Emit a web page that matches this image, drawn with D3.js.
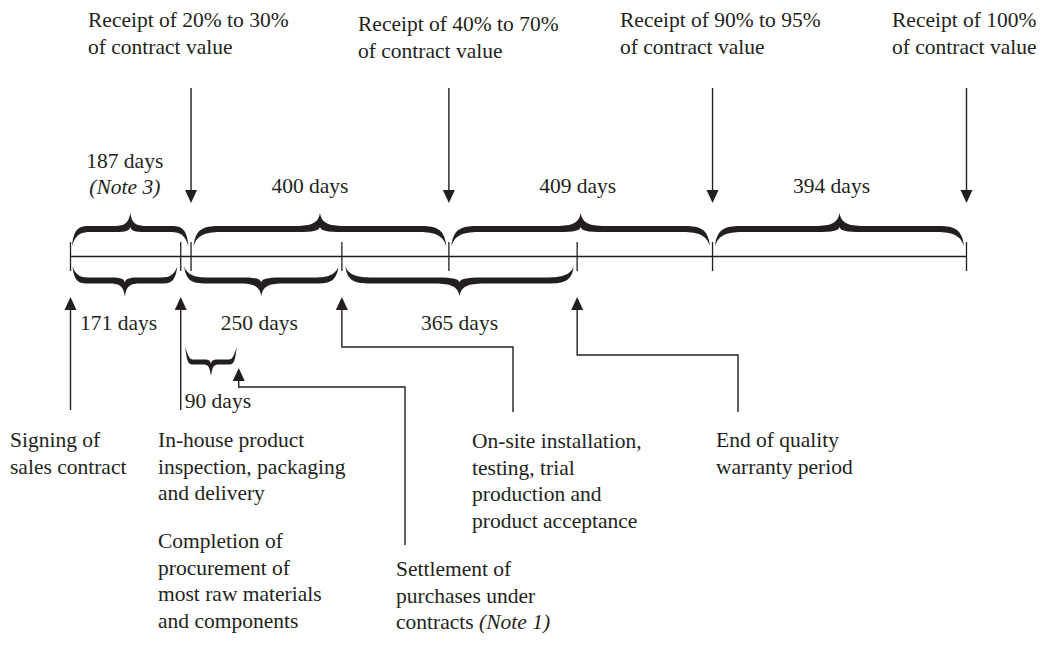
<!DOCTYPE html>
<html>
<head>
<meta charset="utf-8">
<script src="https://cdn.jsdelivr.net/npm/d3@7"></script>
<style>
  html, body { margin: 0; padding: 0; background: #fff; }
  svg text { font-family: 'Liberation Serif', 'Times New Roman', serif; font-size: 21.5px; fill: #231f20; }
</style>
</head>
<body>
<svg id="chart" width="1050" height="647"></svg>
<script>
// days from signing of the sales contract
const axisDays = [0, 171, 187, 421, 587, 786, 996, 1390];

// payment receipts (arrows from the top)
const receiptDays = [187, 587, 996, 1390];
const receiptLabels = [
    ['Receipt of 20% to 30%', 'of contract value'],
    ['Receipt of 40% to 70%', 'of contract value'],
    ['Receipt of 90% to 95%', 'of contract value'],
    ['Receipt of 100%', 'of contract value']
];

// spans above the line
const topSpanStart = [0, 187, 587, 996];
const topSpanEnd = [187, 587, 996, 1390];
const topSpanLabels = [['187 days', '(Note 3)'], ['400 days'], ['409 days'], ['394 days']];

// spans below the line
const bottomSpanStart = [0, 171, 421];
const bottomSpanEnd = [171, 421, 786];
const bottomSpanLabels = ['171 days', '250 days', '365 days'];

// procurement span
const procStart = 171;
const procEnd = 261;
const procLabel = '90 days';

// events (arrows from the bottom)
const eventDays = [0, 171, 421, 786, 261];
const eventLabels = [
    ['Signing of', 'sales contract'],
    ['In-house product', 'inspection, packaging', 'and delivery'],
    ['On-site installation,', 'testing, trial', 'production and', 'product acceptance'],
    ['End of quality', 'warranty period'],
    ['Settlement of', 'purchases under', 'contracts (Note 1)']
];
const extraLabel = ['Completion of', 'procurement of', 'most raw materials', 'and components'];

const svg = d3.select('#chart');
const x = d3.scaleLinear().domain([0, 1390]).range([70.5, 966.5]);

const axisY = 256.5;
const ink = '#231f20';
const lineH = 26.7;

// text with italic notes
function writeLines(sel, lines, xPos, y0, anchor) {
    lines.forEach((line, i) => {
        let t = sel.append('text')
            .attr('x', xPos)
            .attr('y', y0 + i * lineH)
            .attr('text-anchor', anchor || 'start');
        line.split(/(\(Note \d\))/).filter(s => s.length).forEach(part => {
            let ts = t.append('tspan').text(part);
            if (/^\(Note/.test(part)) ts.style('font-style', 'italic');
        });
    });
}

// filled curly brace, tip points toward yTip
function bracePath(x1, x2, yEnd, yb, yTip, t, qMax) {
    const w = x2 - x1;
    const qEnd = Math.min(qMax, w * 0.18);
    const qTip = Math.min(qMax * 0.85, w * 0.15);
    const s = Math.sign(yTip - yb);
    const h = t / 2;
    const yo = yb + s * h;
    const yi = yb - s * h;
    const xm = (x1 + x2) / 2;
    const p = d3.path();
    p.moveTo(x1, yEnd);
    p.bezierCurveTo(x1 + 2, yo + s * 1, x1 + qEnd * 0.45, yo, x1 + qEnd, yo);
    p.lineTo(xm - qTip, yo);
    p.bezierCurveTo(xm - qTip * 0.4, yo, xm - 1.5, yo + s * 1.5, xm, yTip);
    p.bezierCurveTo(xm + 1.5, yo + s * 1.5, xm + qTip * 0.4, yo, xm + qTip, yo);
    p.lineTo(x2 - qEnd, yo);
    p.bezierCurveTo(x2 - qEnd * 0.45, yo, x2 - 2, yo + s * 1, x2, yEnd);
    p.bezierCurveTo(x2 - 4, yi, x2 - qEnd * 0.55, yi, x2 - qEnd, yi);
    p.lineTo(xm + qTip, yi);
    p.bezierCurveTo(xm + qTip * 0.45, yi, xm + 1, yi, xm, yo - s * 1);
    p.bezierCurveTo(xm - 1, yi, xm - qTip * 0.45, yi, xm - qTip, yi);
    p.lineTo(x1 + qEnd, yi);
    p.bezierCurveTo(x1 + qEnd * 0.55, yi, x1 + 4, yi, x1, yEnd);
    p.closePath();
    return p.toString();
}

function arrowHead(xc, yTip, dir) {
    // dir = 1 pointing down, -1 pointing up
    const hl = 13, hw = 6;
    return `M${xc},${yTip}L${xc - hw},${yTip - dir * hl}L${xc + hw},${yTip - dir * hl}Z`;
}

// main line and ticks
svg.append('line')
    .attr('x1', x(0)).attr('x2', x(1390))
    .attr('y1', axisY).attr('y2', axisY)
    .attr('stroke', ink).attr('stroke-width', 1.3);

svg.selectAll('.tick').data(axisDays).enter().append('line')
    .attr('class', 'tick')
    .attr('x1', d => x(d)).attr('x2', d => x(d))
    .attr('y1', axisY - 14.5).attr('y2', axisY + 14.5)
    .attr('stroke', ink).attr('stroke-width', 1.3);

// top braces
topSpanStart.forEach((d, i) => {
    let x1 = x(d) + (i == 0 ? 1.5 : 2.5);
    let x2 = x(topSpanEnd[i]) - 2.5;
    svg.append('path')
        .attr('d', bracePath(x1, x2, axisY - 10, axisY - 27.5, axisY - 44, 6, 32))
        .attr('fill', ink);
});
const topLabelDx = [-6, -10, -3, -8];
topSpanLabels.forEach((lines, i) => {
    let xc = (x(topSpanStart[i]) + x(topSpanEnd[i])) / 2 + topLabelDx[i];
    writeLines(svg, lines, xc, 193 - (lines.length - 1) * 25.5, 'middle');
});

// bottom braces
bottomSpanStart.forEach((d, i) => {
    let x1 = x(d) + (i == 0 ? 2 : 3.5);
    let x2 = x(bottomSpanEnd[i]) - 3.5;
    svg.append('path')
        .attr('d', bracePath(x1, x2, axisY + 10, axisY + 24, axisY + 40, 6, 32))
        .attr('fill', ink);
});
const bottomLabelDx = [-7, -2, 0];
bottomSpanLabels.forEach((label, i) => {
    let xc = (x(bottomSpanStart[i]) + x(bottomSpanEnd[i])) / 2 + bottomLabelDx[i];
    writeLines(svg, [label], xc, 330, 'middle');
});

// procurement brace
svg.append('path')
    .attr('d', bracePath(x(procStart) + 4.5, x(procEnd) - 2, 347, 362, 376, 5, 14))
    .attr('fill', ink);
writeLines(svg, [procLabel], x(procStart) + 4, 408, 'start');

// receipt arrows
receiptDays.forEach((d, i) => {
    svg.append('line')
        .attr('x1', x(d)).attr('x2', x(d))
        .attr('y1', 88).attr('y2', 192)
        .attr('stroke', ink).attr('stroke-width', 1.4);
    svg.append('path').attr('d', arrowHead(x(d), 203, 1)).attr('fill', ink);
});
const receiptLabelX = [88, 358, 620, 892];
const receiptLabelY = [27, 31, 27, 27];
receiptLabels.forEach((lines, i) => writeLines(svg, lines, receiptLabelX[i], receiptLabelY[i], 'start'));

// event arrows: tip y, elbow y, elbow x end, bottom y
const eventRoutes = [
    { tip: 297, elbowY: null, toX: null, end: 410 },
    { tip: 297, elbowY: null, toX: null, end: 410 },
    { tip: 297, elbowY: 347, toX: 513, end: 412 },
    { tip: 297, elbowY: 355, toX: 738, end: 412 },
    { tip: 368, elbowY: 387, toX: 405, end: 545 }
];
eventDays.forEach((d, i) => {
    let r = eventRoutes[i];
    let xc = x(d);
    let pts = [[xc, r.tip + 10]];
    if (r.elbowY) {
        pts.push([xc, r.elbowY], [r.toX, r.elbowY], [r.toX, r.end]);
    } else {
        pts.push([xc, r.end]);
    }
    svg.append('path')
        .attr('d', d3.line()(pts))
        .attr('fill', 'none')
        .attr('stroke', ink).attr('stroke-width', 1.4);
    svg.append('path').attr('d', arrowHead(xc, r.tip, -1)).attr('fill', ink);
});

const eventLabelX = [10, 158, 472, 716, 396];
const eventLabelY = [447, 447, 448, 447, 576];
eventLabels.forEach((lines, i) => writeLines(svg, lines, eventLabelX[i], eventLabelY[i], 'start'));
writeLines(svg, extraLabel, 158, 548, 'start');
</script>
</body>
</html>
